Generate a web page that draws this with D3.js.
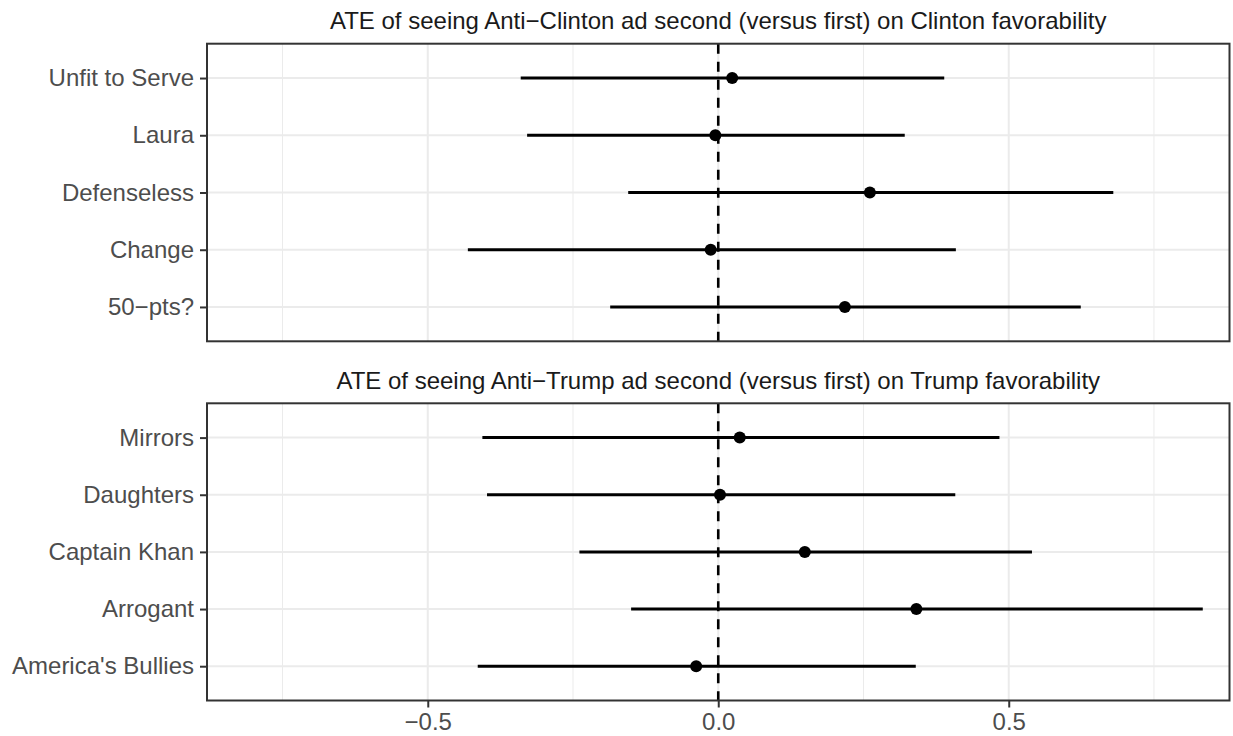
<!DOCTYPE html>
<html>
<head>
<meta charset="utf-8">
<script src="https://cdn.jsdelivr.net/npm/d3@7"></script>
<style>
  body { margin: 0; background: #fff; }
  svg { display: block; font-family: "Liberation Sans", Arial, sans-serif; }
</style>
</head>
<body>
<svg id="chart" width="1233" height="736"></svg>
<script>
// ads, top to bottom
const clintonAds = ["Unfit to Serve", "Laura", "Defenseless", "Change", "50\u2212pts?"];
const clintonEst = [0.024, -0.005, 0.261, -0.013, 0.218];
const clintonLo  = [-0.340, -0.329, -0.155, -0.431, -0.186];
const clintonHi  = [0.389, 0.321, 0.680, 0.409, 0.624];

const trumpAds = ["Mirrors", "Daughters", "Captain Khan", "Arrogant", "America's Bullies"];
const trumpEst = [0.037, 0.003, 0.149, 0.341, -0.038];
const trumpLo  = [-0.406, -0.398, -0.239, -0.150, -0.414];
const trumpHi  = [0.484, 0.408, 0.540, 0.834, 0.340];

const panelTitles = [
  "ATE of seeing Anti\u2212Clinton ad second (versus first) on Clinton favorability",
  "ATE of seeing Anti\u2212Trump ad second (versus first) on Trump favorability"
];
const xMajor = [-0.5, 0, 0.5];
const xMinor = [-0.75, -0.25, 0.25, 0.75];
const xLimit = 0.8;

const svg = d3.select("#chart");
const left = 207, right = 1229.5;
const fontSize = 24;

// symmetric limits with ggplot's 5% expansion
const x = d3.scaleLinear()
  .domain([-xLimit * 1.1, xLimit * 1.1])
  .range([left, right]);

const tickFmt = d => d === 0 ? "0.0" : d3.format(".1f")(d).replace("-", "\u2212");

function drawPanel(ads, est, lo, hi, title, top, bottom, showX) {
  const rows = ads.map((a, i) => ({ad: a, est: est[i], lo: lo[i], hi: hi[i]}));
  const y = d3.scalePoint().domain(ads).range([top, bottom]).padding(0.6);
  const g = svg.append("g");

  // grid
  g.selectAll(".minor").data(xMinor).join("line")
    .attr("x1", d => x(d)).attr("x2", d => x(d))
    .attr("y1", top).attr("y2", bottom)
    .attr("stroke", "#EBEBEB").attr("stroke-width", 1);
  g.selectAll(".major").data(xMajor).join("line")
    .attr("x1", d => x(d)).attr("x2", d => x(d))
    .attr("y1", top).attr("y2", bottom)
    .attr("stroke", "#EBEBEB").attr("stroke-width", 2);
  g.selectAll(".hgrid").data(ads).join("line")
    .attr("x1", left).attr("x2", right)
    .attr("y1", d => y(d)).attr("y2", d => y(d))
    .attr("stroke", "#EBEBEB").attr("stroke-width", 2);

  // zero line
  g.append("line")
    .attr("x1", x(0)).attr("x2", x(0))
    .attr("y1", top).attr("y2", bottom)
    .attr("stroke", "#000").attr("stroke-width", 2.6)
    .attr("stroke-dasharray", "10,8");

  // intervals + estimates
  g.selectAll(".ci").data(rows).join("line")
    .attr("x1", d => x(d.lo)).attr("x2", d => x(d.hi))
    .attr("y1", d => y(d.ad)).attr("y2", d => y(d.ad))
    .attr("stroke", "#000").attr("stroke-width", 3);
  g.selectAll(".pt").data(rows).join("circle")
    .attr("cx", d => x(d.est)).attr("cy", d => y(d.ad))
    .attr("r", 6).attr("fill", "#000");

  // panel border
  g.append("rect")
    .attr("x", left).attr("y", top)
    .attr("width", right - left).attr("height", bottom - top)
    .attr("fill", "none").attr("stroke", "#333333").attr("stroke-width", 2);

  // y axis
  const yAxis = g.append("g").attr("transform", `translate(${left},0)`)
    .call(d3.axisLeft(y).tickSize(7).tickPadding(6));
  yAxis.select(".domain").remove();
  yAxis.selectAll(".tick line").attr("stroke", "#333333").attr("stroke-width", 2);
  yAxis.selectAll(".tick text")
    .attr("fill", "#4D4D4D").style("font-size", fontSize + "px")
    .style("font-family", "Liberation Sans, Arial, sans-serif");

  if (showX) {
    const xAxis = g.append("g").attr("transform", `translate(0,${bottom})`)
      .call(d3.axisBottom(x).tickValues(xMajor).tickFormat(tickFmt).tickSize(7).tickPadding(5));
    xAxis.select(".domain").remove();
    xAxis.selectAll(".tick line").attr("stroke", "#333333").attr("stroke-width", 2);
    xAxis.selectAll(".tick text")
      .attr("fill", "#4D4D4D").style("font-size", fontSize + "px")
      .style("font-family", "Liberation Sans, Arial, sans-serif");
  }

  // panel title
  svg.append("text")
    .attr("x", (left + right) / 2).attr("y", top - 14.5)
    .attr("text-anchor", "middle")
    .attr("fill", "#1A1A1A")
    .style("font-size", fontSize + "px")
    .text(title);
}

drawPanel(clintonAds, clintonEst, clintonLo, clintonHi, panelTitles[0], 43.7, 341.3, false);
drawPanel(trumpAds, trumpEst, trumpLo, trumpHi, panelTitles[1], 403.3, 700.5, true);
</script>
</body>
</html>
